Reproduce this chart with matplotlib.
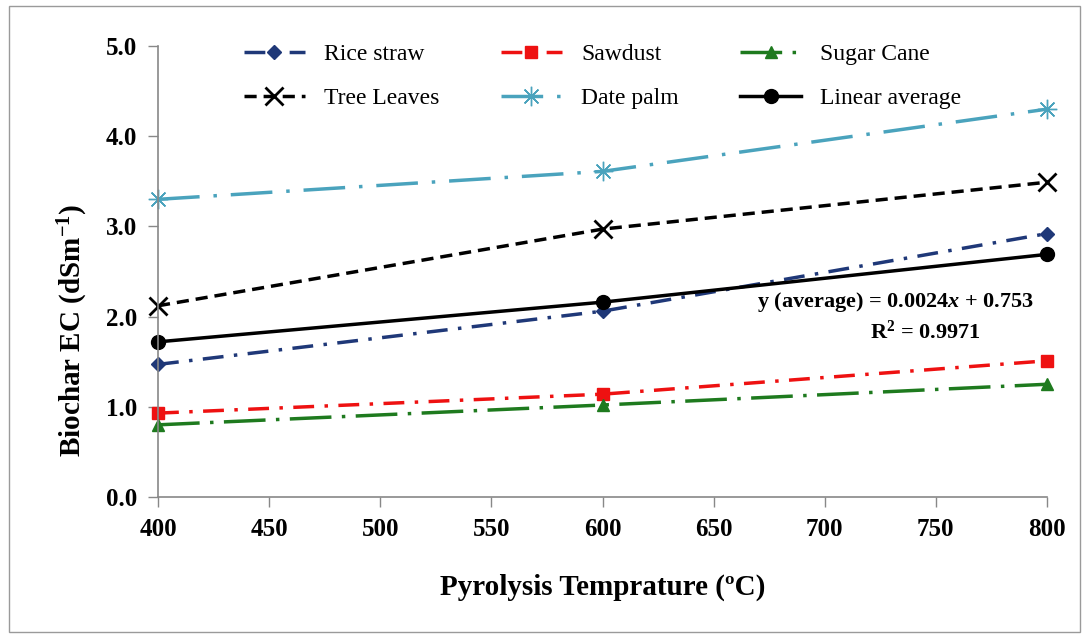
import numpy as np
import matplotlib.pyplot as plt
from matplotlib.patches import Rectangle

# data
temps        = [400, 600, 800]
rice_straw   = [1.47, 2.06, 2.92]
sawdust      = [0.93, 1.14, 1.51]
sugar_cane   = [0.80, 1.02, 1.25]
tree_leaves  = [2.12, 2.97, 3.49]
date_palm    = [3.30, 3.61, 4.30]
lin_average  = [1.72, 2.16, 2.69]

xticks = [400, 450, 500, 550, 600, 650, 700, 750, 800]
yticks = [0.0, 1.0, 2.0, 3.0, 4.0, 5.0]

plt.rcParams['font.family'] = ['Liberation Serif', 'DejaVu Serif']
plt.rcParams['mathtext.fontset'] = 'custom'
plt.rcParams['mathtext.rm'] = 'Liberation Serif:bold'
plt.rcParams['mathtext.it'] = 'Liberation Serif:italic:bold'
plt.rcParams['mathtext.bf'] = 'Liberation Serif:bold'
plt.rcParams['mathtext.default'] = 'regular'

fig = plt.figure(figsize=(10.89, 6.4), dpi=100)
ax = fig.add_axes([158/1089, 1 - 497/640, (1047-158)/1089, (497-46)/640])

# border around the whole figure
fig.patches.append(Rectangle((0.008, 0.012), 0.984, 0.978, transform=fig.transFigure,
                             fill=False, edgecolor='#9a9a9a', linewidth=1.0))

ax.plot(temps, rice_straw, color='#1f3878', linestyle=(0, (6, 3, 1, 3)), linewidth=2.5,
        marker='D', markersize=7, label='Rice straw')
ax.plot(temps, sawdust, color='#ee1111', linestyle=(0, (6, 3, 1, 3)), linewidth=2.5,
        marker='s', markersize=8, label='Sawdust')
ax.plot(temps, sugar_cane, color='#1e7a1e', linestyle=(0, (12, 3, 1, 3)), linewidth=2.5,
        marker='^', markersize=9, label='Sugar Cane')
ax.plot(temps, tree_leaves, color='black', linestyle=(0, (3.5, 2)), linewidth=2.5,
        marker='x', markersize=13, markeredgewidth=2, label='Tree Leaves')
ax.plot(temps, date_palm, color='#4aa3bd', linestyle=(0, (12, 4, 1, 4)), linewidth=2.5,
        marker=(8, 2, 0), markersize=14, markeredgewidth=1, label='Date palm')
ax.plot(temps, lin_average, color='black', linestyle='-', linewidth=2.5,
        marker='o', markersize=10, label='Linear average')

ax.set_xlim(400, 800)
ax.set_ylim(0, 5)
ax.set_xticks(xticks)
ax.set_yticks(yticks)
ax.set_yticklabels(['%.1f' % v for v in yticks])
for lab in ax.get_xticklabels() + ax.get_yticklabels():
    lab.set_fontweight('bold')
    lab.set_fontsize(18)
ax.tick_params(axis='both', colors='#888888', labelcolor='black', length=7, width=1)
ax.tick_params(axis='x', pad=8)
ax.tick_params(axis='y', pad=8)

for s in ['top', 'right']:
    ax.spines[s].set_visible(False)
for s in ['left', 'bottom']:
    ax.spines[s].set_color('#888888')
    ax.spines[s].set_linewidth(1.2)
for ln in ax.lines:
    ln.set_clip_on(False)

ax.set_xlabel('Pyrolysis Temprature (\u00baC)', fontsize=21, fontweight='bold', labelpad=24)
ax.set_ylabel('Biochar EC (dSm$^{-1}$)', fontsize=21, fontweight='bold')
ax.yaxis.set_label_coords(-0.077, 0.37)

ax.text(0.985, 0.432, 'y (average) = 0.0024$\\it{x}$ + 0.753', transform=ax.transAxes,
        ha='right', va='center', fontsize=16, fontweight='bold')
ax.text(0.925, 0.365, 'R$^2$ = 0.9971', transform=ax.transAxes,
        ha='right', va='center', fontsize=16, fontweight='bold')

# legend filled row by row like the original
h, l = ax.get_legend_handles_labels()
order = [0, 3, 1, 4, 2, 5]
ax.legend([h[i] for i in order], [l[i] for i in order],
          loc='upper center', bbox_to_anchor=(0.5, 1.052), ncol=3, frameon=False,
          fontsize=17, handlelength=2.6, columnspacing=2.6, labelspacing=0.95,
          handletextpad=0.8)

fig.savefig('out.png', dpi=100)
